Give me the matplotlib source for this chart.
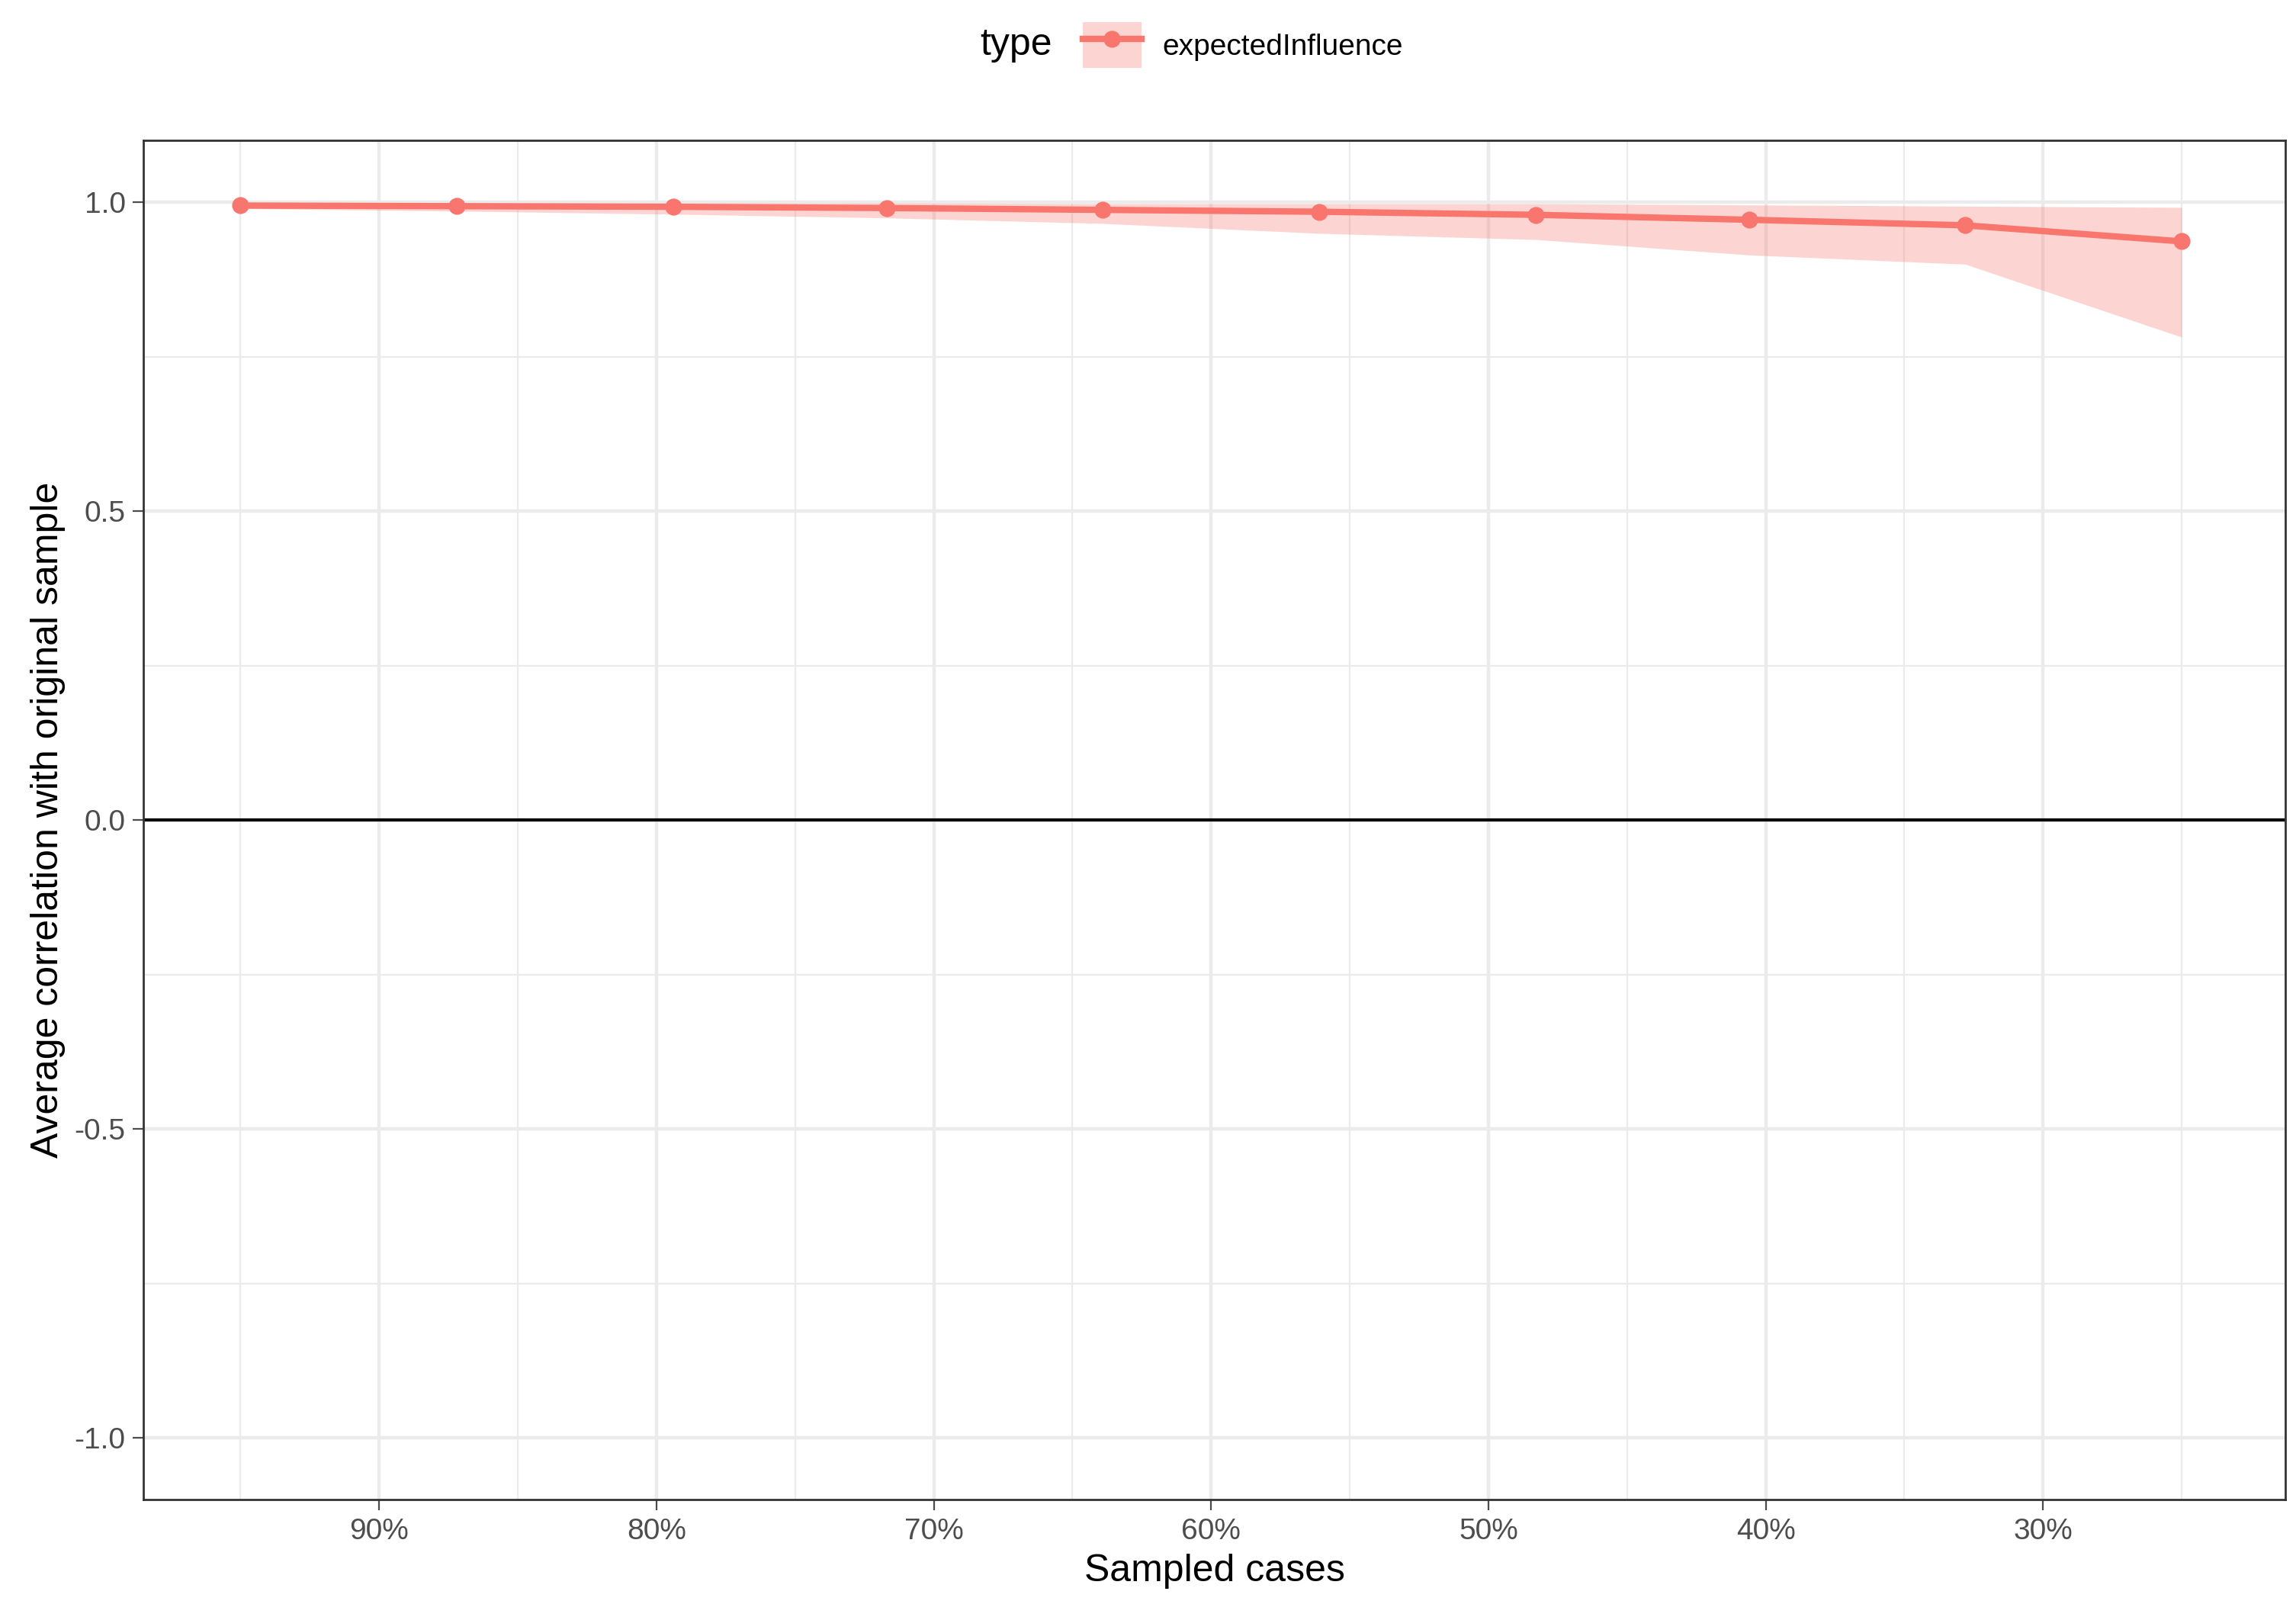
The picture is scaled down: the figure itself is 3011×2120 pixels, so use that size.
import matplotlib
matplotlib.use("Agg")
import matplotlib.pyplot as plt
from matplotlib.patches import Patch
from matplotlib.lines import Line2D

sampled = [0.95, 0.872, 0.794, 0.717, 0.639, 0.561, 0.483, 0.406, 0.328, 0.25]
mean_cor = [0.995, 0.994, 0.993, 0.991, 0.988, 0.985, 0.980, 0.972, 0.963, 0.937]
lower = [0.990, 0.986, 0.981, 0.975, 0.966, 0.950, 0.940, 0.915, 0.900, 0.782]
upper = [0.999, 0.999, 0.999, 0.999, 0.998, 0.998, 0.998, 0.996, 0.994, 0.992]
xticks = [0.9, 0.8, 0.7, 0.6, 0.5, 0.4, 0.3]
xticklabels = ["90%", "80%", "70%", "60%", "50%", "40%", "30%"]
yticks = [-1.0, -0.5, 0.0, 0.5, 1.0]

col = "#F8766D"
plt.rcParams['font.family'] = ['Liberation Sans', 'DejaVu Sans']
fig = plt.figure(figsize=(15.055, 10.6), dpi=200)
ax = fig.add_axes([0.0625, 0.0725, 0.933, 0.8405])
ax.fill_between(sampled, lower, upper, color=col, alpha=0.3, linewidth=0)
ax.plot(sampled, mean_cor, color=col, lw=3, marker='o', ms=7, zorder=3)
ax.axhline(0, color='black', lw=1.5)
ax.set_xlim(0.985, 0.2125)
ax.set_ylim(-1.1, 1.1)
ax.set_xticks(xticks)
ax.set_xticklabels(xticklabels)
ax.set_xticks([0.95, 0.85, 0.75, 0.65, 0.55, 0.45, 0.35, 0.25], minor=True)
ax.set_yticks(yticks)
ax.set_yticklabels(["-1.0", "-0.5", "0.0", "0.5", "1.0"])
ax.set_yticks([-0.75, -0.25, 0.25, 0.75], minor=True)
ax.grid(which='major', color='#EBEBEB', lw=1.6)
ax.grid(which='minor', color='#EBEBEB', lw=0.8)
ax.set_axisbelow(True)
ax.tick_params(which='major', labelsize=14, colors='#4D4D4D', length=5)
ax.tick_params(which='minor', length=0)
for s in ax.spines.values():
    s.set_color('#333333'); s.set_linewidth(1)
ax.set_xlabel("Sampled cases", fontsize=18)
ax.set_ylabel("Average correlation with original sample", fontsize=18)
handle = (Patch(facecolor=col, alpha=0.3, edgecolor='none'),
          Line2D([], [], color=col, lw=3, marker='o', ms=7))
fig.text(0.427, 0.972, "type", fontsize=18, ha='left', va='center')
fig.legend([handle], ["expectedInfluence"], loc='center left',
           bbox_to_anchor=(0.465, 0.972), frameon=False, fontsize=14,
           handlelength=2.0, handleheight=2.0, borderpad=0, handletextpad=0.7)
fig.savefig("out.png", dpi=200)
